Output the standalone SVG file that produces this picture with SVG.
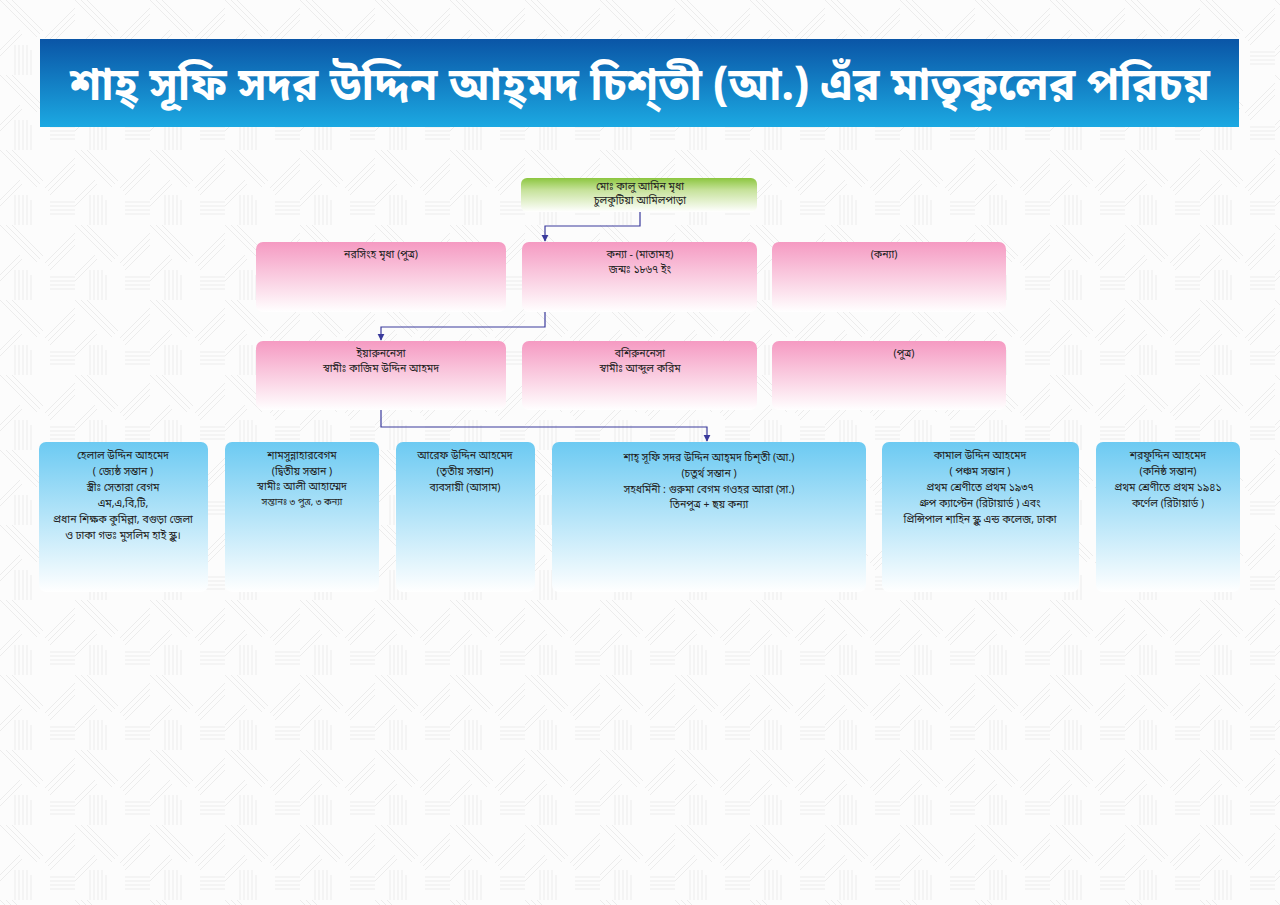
<svg xmlns="http://www.w3.org/2000/svg" width="1280" height="905" viewBox="0 0 1280 905">
<style>
text{font-family:"Noto Sans Bengali","Noto Serif Bengali","Lohit Bengali","FreeSerif","Noto Sans","DejaVu Sans",sans-serif;fill:#222;text-anchor:middle;font-size:10.5px}
.title{fill:#fff;font-size:46px;font-weight:bold}
.conn{fill:none;stroke:#3a3a9c;stroke-width:1.2}
.bx{stroke:none}
</style>
<defs>
<linearGradient id="gTitle" x1="0" y1="0" x2="0" y2="1"><stop offset="0" stop-color="#0a55a6"/><stop offset="1" stop-color="#1ca9e2"/></linearGradient>
<linearGradient id="gGreen" x1="0" y1="0" x2="0" y2="1"><stop offset="0" stop-color="#8cc63f"/><stop offset="0.35" stop-color="#c6e29a"/><stop offset="1" stop-color="#ffffff"/></linearGradient>
<linearGradient id="gPink" x1="0" y1="0" x2="0" y2="1"><stop offset="0" stop-color="#f59ac2"/><stop offset="1" stop-color="#ffffff"/></linearGradient>
<linearGradient id="gBlue" x1="0" y1="0" x2="0" y2="1"><stop offset="0" stop-color="#6ccaf2"/><stop offset="1" stop-color="#ffffff"/></linearGradient>
<pattern id="bg" width="75" height="75" patternUnits="userSpaceOnUse">
<rect width="75" height="75" fill="#fcfcfc"/>
<g stroke="#ececec" stroke-width="1" fill="none">
<path d="M0 0L37 37M6 0L40 34M12 0L43 31M45 38L75 8M48 41L75 14M50 45L75 20"/>
<path d="M15 45V75M19 45V75M23 45V75M27 45V75M31 50V75"/>
<path d="M50 52H75M50 56H75M50 60H75M50 64H75"/>
<path d="M0 50L20 30M0 56L22 34"/>
</g>
</pattern>
<marker id="arr" viewBox="0 0 10 10" refX="9" refY="5" markerWidth="6" markerHeight="6" orient="auto"><path d="M0 0L10 5L0 10z" fill="#3a3a9c"/></marker>
</defs>
<rect width="1280" height="905" fill="url(#bg)"/>
<g id="title">
<rect x="40" y="39" width="1199" height="88" fill="url(#gTitle)"/>
<text class="title" x="640" y="100" textLength="1140" lengthAdjust="spacingAndGlyphs">শাহ্ সূফি সদর উদ্দিন আহ্‌মদ চিশ্‌তী (আ.) এঁর মাতৃকূলের পরিচয়</text>
</g>
<g id="connectors">
<path class="conn" d="M640 212V226H545V241" marker-end="url(#arr)"/>
<path class="conn" d="M545 312V327H381V340" marker-end="url(#arr)"/>
<path class="conn" d="M381 410V427H707V441" marker-end="url(#arr)"/>
</g>
<g id="n-kalu">
<rect class="bx" x="521" y="178" width="236" height="34" rx="6" fill="url(#gGreen)"/>
<text x="640" y="190">মোঃ কালু আমিন মৃধা</text>
<text x="640" y="204">চুলকুটিয়া আমিলপাড়া</text>
</g>
<g id="n-narasingha">
<rect class="bx" x="256" y="242" width="250" height="70" rx="7" fill="url(#gPink)"/>
<text x="381" y="258">নরসিংহ মৃধা (পুত্র)</text>
</g>
<g id="n-kanya-matamaha">
<rect class="bx" x="522" y="242" width="235" height="70" rx="7" fill="url(#gPink)"/>
<text x="640" y="258">কন্যা - (মাতামহ)</text>
<text x="640" y="273">জন্মঃ ১৮৬৭ ইং</text>
</g>
<g id="n-kanya">
<rect class="bx" x="772" y="242" width="234" height="70" rx="7" fill="url(#gPink)"/>
<text x="884" y="258">(কন্যা)</text>
</g>
<g id="n-yarunnesa">
<rect class="bx" x="256" y="341" width="250" height="69" rx="7" fill="url(#gPink)"/>
<text x="381" y="357">ইয়ারুননেসা</text>
<text x="381" y="372">স্বামীঃ কাজিম উদ্দিন আহমদ</text>
</g>
<g id="n-bashirunnesa">
<rect class="bx" x="522" y="341" width="235" height="69" rx="7" fill="url(#gPink)"/>
<text x="640" y="357">বশিরুননেসা</text>
<text x="640" y="372">স্বামীঃ আব্দুল করিম</text>
</g>
<g id="n-putra">
<rect class="bx" x="772" y="341" width="234" height="69" rx="7" fill="url(#gPink)"/>
<text x="904" y="357">(পুত্র)</text>
</g>
<g id="n-helal">
<rect class="bx" x="39" y="442" width="169" height="150" rx="7" fill="url(#gBlue)"/>
<text x="123" y="459">হেলাল উদ্দিন আহমেদ</text>
<text x="123" y="475">( জ্যেষ্ঠ সন্তান )</text>
<text x="123" y="491">স্ত্রীঃ সেতারা বেগম</text>
<text x="123" y="507">এম,এ,বি,টি,</text>
<text x="123" y="523">প্রধান শিক্ষক কুমিল্লা, বগুড়া জেলা</text>
<text x="123" y="539">ও ঢাকা গভঃ মুসলিম হাই স্কুল।</text>
</g>
<g id="n-shamsunnahar">
<rect class="bx" x="225" y="442" width="154" height="150" rx="7" fill="url(#gBlue)"/>
<text x="302" y="459">শামসুন্নাহারবেগম</text>
<text x="302" y="475">(দ্বিতীয় সন্তান )</text>
<text x="302" y="490">স্বামীঃ আলী আহাম্মেদ</text>
<text x="302" y="505" style="font-size:9.5px">সন্তানঃ ৩ পুত্র, ৩ কন্যা</text>
</g>
<g id="n-aref">
<rect class="bx" x="396" y="442" width="139" height="150" rx="7" fill="url(#gBlue)"/>
<text x="465" y="459">আরেফ উদ্দিন আহমেদ</text>
<text x="465" y="475">(তৃতীয় সন্তান)</text>
<text x="465" y="491">ব্যবসায়ী (আসাম)</text>
</g>
<g id="n-shah-sufi">
<rect class="bx" x="552" y="442" width="314" height="150" rx="7" fill="url(#gBlue)"/>
<text x="709" y="461">শাহ্ সূফি সদর উদ্দিন আহ্‌মদ চিশ্‌তী (আ.)</text>
<text x="709" y="477">(চতুর্থ সন্তান )</text>
<text x="709" y="493">সহধর্মিনী : গুরুমা বেগম গওহর আরা (সা.)</text>
<text x="709" y="508">তিনপুত্র + ছয় কন্যা</text>
</g>
<g id="n-kamal">
<rect class="bx" x="882" y="442" width="197" height="150" rx="7" fill="url(#gBlue)"/>
<text x="980" y="459">কামাল উদ্দিন আহমেদ</text>
<text x="980" y="475">( পঞ্চম সন্তান )</text>
<text x="980" y="491">প্রথম শ্রেণীতে প্রথম ১৯৩৭</text>
<text x="980" y="507">গ্রুপ ক্যাপ্টেন (রিটায়ার্ড ) এবং</text>
<text x="980" y="523">প্রিন্সিপাল শাহিন স্কুল এন্ড কলেজ, ঢাকা</text>
</g>
<g id="n-sharafuddin">
<rect class="bx" x="1096" y="442" width="144" height="150" rx="7" fill="url(#gBlue)"/>
<text x="1168" y="459">শরফুদ্দিন আহমেদ</text>
<text x="1168" y="475">(কনিষ্ঠ সন্তান)</text>
<text x="1168" y="491">প্রথম শ্রেণীতে প্রথম ১৯৪১</text>
<text x="1168" y="507">কর্ণেল (রিটায়ার্ড )</text>
</g>
</svg>
